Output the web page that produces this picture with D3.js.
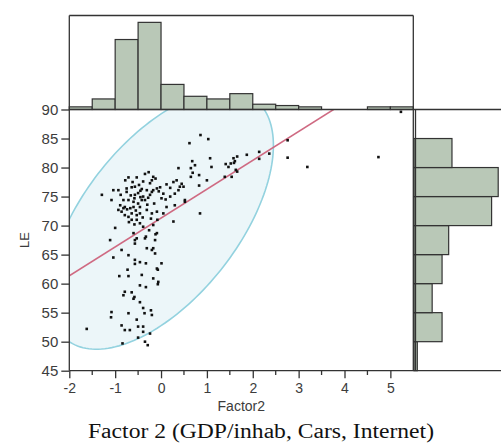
<html>
<head>
<meta charset="utf-8">
<title>Factor2 vs LE</title>
<script src="https://cdn.jsdelivr.net/npm/d3@7"></script>
<style>
  body { margin: 0; background: #fff; }
</style>
</head>
<body>
<script>
// ---- data ----
// scatter points: [Factor2, LE]
const factor2 = [
  -1.29,-1.04,-0.93,-1.08,-0.71,-0.53,-0.17,-0.20,-0.12,-0.24,-0.20,-0.17,-0.24,-0.39,-0.42,-0.39,-0.42,-0.50,-0.46,-0.60,
  -0.57,-0.57,-0.64,-0.75,-0.75,-0.82,-0.71,-0.82,-0.86,-0.79,-0.71,-0.64,-0.53,-0.64,-0.53,-0.93,-0.89,-0.79,-0.67,-0.46,
  -0.35,-0.60,-0.31,-0.09,-0.02,-0.20,-0.31,-0.09,0.05,0.12,0.27,0.30,0.30,0.38,0.41,0.49,0.34,0.27,0.38,0.52,
  0.12,0.05,0.01,0.10,-0.46,-0.39,-0.26,-0.17,-0.12,-1.00,-1.11,-0.60,-0.57,-0.57,-0.33,-0.31,-0.20,
  -0.62,-0.48,-0.66,-0.50,-0.45,-0.28,-0.30,-0.55,-0.74,-0.70,-0.58,-0.40,-0.15,-0.05,-0.78,-0.35,-0.27,-0.58,-0.88,-0.45,
  0.20,0.45,0.20,-0.08,-0.22,
  -1.04,-0.91,-0.71,-0.46,-0.33,-0.17,-0.06,-0.71,-0.57,-0.57,-0.33,-0.13,0.01,-0.09,-0.86,-0.46,-0.73,-0.42,-0.07,-0.79,
  -0.82,-0.64,-0.58,-0.46,-0.39,-0.22,-0.20,-1.08,-1.09,-0.71,-0.53,-0.39,-0.50,-0.86,-0.79,-0.68,-0.39,-1.62,-0.84,-0.50,
  -0.35,-0.29,-0.24,-0.36,-0.13,-0.17,-0.35,-0.53,-0.09,-0.07,-0.60,
  0.86,1.03,0.62,1.07,0.68,0.74,0.65,0.69,0.65,1.10,1.00,0.83,0.85,0.83,1.41,1.47,1.58,1.61,1.66,1.59,
  1.63,1.39,1.54,1.87,2.14,2.14,2.36,2.76,2.76,3.19,4.74,5.23,0.52,1.52,1.66
];
const lifeExp = [
  75.3,76.1,76.1,74.4,78.3,78.3,78.4,77.8,78.1,77.3,75.8,76.1,75.3,77.6,76.3,75.0,74.4,73.8,73.2,73.2,
  75.3,76.7,76.6,76.4,75.8,74.4,74.4,73.0,72.4,71.8,71.5,71.0,71.0,72.1,71.8,72.7,73.5,73.2,73.0,72.1,
  74.4,74.1,76.1,76.4,76.6,72.1,72.7,72.4,72.1,73.2,70.7,73.5,75.5,76.1,76.7,76.7,77.8,77.5,79.9,74.4,
  77.1,75.5,74.7,74.5,70.4,69.8,69.2,70.1,68.5,69.6,67.5,68.7,67.5,66.9,68.1,66.1,65.8,
  77.5,77.0,75.2,75.6,74.9,74.8,73.6,72.6,72.8,70.6,70.2,71.4,73.8,75.9,77.8,78.9,79.2,74.7,75.3,76.0,
  75.0,77.2,76.5,71.0,71.2,
  64.5,61.3,61.3,59.7,59.4,60.9,60.3,64.9,64.1,63.4,63.5,65.2,63.5,62.6,65.8,63.7,62.4,61.5,62.4,58.6,
  58.0,58.5,57.7,56.8,55.8,55.4,54.6,55.1,54.2,54.9,53.8,52.6,52.6,52.8,52.0,52.0,51.7,52.2,49.7,50.7,
  50.0,49.4,51.4,54.9,67.5,66.1,67.8,67.8,68.7,59.9,57.4,
  85.6,84.9,84.2,81.6,81.1,80.4,79.9,79.1,78.4,80.1,77.8,76.9,72.1,78.7,80.6,80.1,81.6,81.1,81.9,80.8,
  79.6,78.4,78.4,82.2,82.7,81.5,82.4,84.7,81.7,80.1,81.8,89.6,74.1,80.7,79.3
];

// marginal histogram of Factor2 (bin starts, width 0.5)
const factorBins = [-2,-1.5,-1,-0.5,0,0.5,1,1.5,2,2.5,3,3.5,4,4.5,5];
const factorCounts = [2,8,53,66,19,10,8,12,4,3,2,0,0,2,2];

// marginal histogram of LE (bin starts, width 5)
const leBins = [45,50,55,60,65,70,75,80];
const leCounts = [2,17,11,17,21,47,51,23];

// density ellipse and fit line
const ellipseStats = {mx: 0, my: 71.0, rx: 2.45, ry: 22.3, r: 0.575};
const fitLine = {intercept: 71.3, slope: 4.97};

const xTicks = [-2,-1,0,1,2,3,4,5];
const xMinor = [-1.5,-0.5,0.5,1.5,2.5,3.5,4.5];
const yTicks = [45,50,55,60,65,70,75,80,85,90];

// ---- layout ----
const width = 501, height = 444;
const plot = {left: 69.3, right: 413.3, top: 109.5, bottom: 370.7};
const topHistTop = 15.5;
const sideHistLeft = 414;

const frameColor = "#333";
const textColor = "#3c3c3c";
const barFill = "#b9c8b7";

const svg = d3.select("body").append("svg")
  .attr("width", width)
  .attr("height", height)
  .style("display", "block");

const x = d3.scaleLinear().domain([-2, 5.5]).range([plot.left, plot.right]);
const y = d3.scaleLinear().domain([45, 90]).range([plot.bottom, plot.top]);
const yHist = d3.scaleLinear().domain([0, 71.2]).range([plot.top, topHistTop]);
const xHist = d3.scaleLinear().domain([0, 53]).range([sideHistLeft, sideHistLeft + 87.5]);

svg.append("clipPath").attr("id", "plotClip")
  .append("rect")
    .attr("x", plot.left).attr("y", plot.top)
    .attr("width", plot.right - plot.left).attr("height", plot.bottom - plot.top);

const inner = svg.append("g").attr("clip-path", "url(#plotClip)");

// density ellipse
const angles = d3.range(0, 361, 2).map(a => a * Math.PI / 180);
const sr = Math.sqrt(1 - ellipseStats.r * ellipseStats.r);
const ellipsePts = angles.map(t => [
  ellipseStats.mx + ellipseStats.rx * Math.cos(t),
  ellipseStats.my + ellipseStats.ry * (ellipseStats.r * Math.cos(t) + sr * Math.sin(t))
]);
inner.append("path")
  .attr("d", d3.line().x(d => x(d[0])).y(d => y(d[1]))(ellipsePts) + "Z")
  .attr("fill", "#ecf6f9")
  .attr("stroke", "#93d2df")
  .attr("stroke-width", 1.6);

// fit line
inner.append("line")
  .attr("x1", x(-2)).attr("y1", y(fitLine.intercept + fitLine.slope * -2))
  .attr("x2", x(5.5)).attr("y2", y(fitLine.intercept + fitLine.slope * 5.5))
  .attr("stroke", "#cf6a82")
  .attr("stroke-width", 1.6);

// points
inner.append("g")
  .selectAll("rect")
  .data(d3.zip(factor2, lifeExp))
  .join("rect")
    .attr("x", d => x(d[0]) - 1.3)
    .attr("y", d => y(d[1]) - 1.3)
    .attr("width", 2.6)
    .attr("height", 2.6)
    .attr("fill", "#111");

// top histogram
svg.append("g")
  .selectAll("rect")
  .data(d3.zip(factorBins, factorCounts).filter(d => d[1] > 0))
  .join("rect")
    .attr("x", d => x(d[0]))
    .attr("y", d => yHist(d[1]))
    .attr("width", d => x(d[0] + 0.5) - x(d[0]))
    .attr("height", d => yHist(0) - yHist(d[1]))
    .attr("fill", barFill)
    .attr("stroke", frameColor)
    .attr("stroke-width", 1.2);

// side histogram
svg.append("g")
  .selectAll("rect")
  .data(d3.zip(leBins, leCounts))
  .join("rect")
    .attr("x", xHist(0))
    .attr("y", d => y(d[0] + 5))
    .attr("width", d => xHist(d[1]) - xHist(0))
    .attr("height", d => y(d[0]) - y(d[0] + 5))
    .attr("fill", barFill)
    .attr("stroke", frameColor)
    .attr("stroke-width", 1.2);

// frame lines
const frame = svg.append("g").attr("stroke", frameColor).attr("stroke-width", 1.3).attr("fill", "none");
frame.append("line").attr("x1", plot.left).attr("x2", plot.left).attr("y1", topHistTop).attr("y2", plot.bottom);
frame.append("line").attr("x1", plot.right).attr("x2", plot.right).attr("y1", topHistTop).attr("y2", plot.bottom);
frame.append("line").attr("x1", plot.left).attr("x2", plot.right).attr("y1", topHistTop).attr("y2", topHistTop);
frame.append("line").attr("x1", plot.left).attr("x2", width).attr("y1", plot.top).attr("y2", plot.top);
frame.append("line").attr("x1", plot.left).attr("x2", width).attr("y1", plot.bottom).attr("y2", plot.bottom);
frame.append("line").attr("x1", sideHistLeft + 1.5).attr("x2", sideHistLeft + 1.5).attr("y1", plot.top).attr("y2", plot.bottom);

// axes
const yAxis = svg.append("g")
  .attr("transform", "translate(" + plot.left + ",0)")
  .call(d3.axisLeft(y).tickValues(yTicks).tickSize(8).tickPadding(3));

const xAxis = svg.append("g")
  .attr("transform", "translate(0," + plot.bottom + ")")
  .call(d3.axisBottom(x).tickValues(xTicks).tickSize(7.6).tickPadding(5).tickFormat(d => d < 0 ? "-" + Math.abs(d) : d));

svg.append("g")
  .attr("transform", "translate(0," + plot.bottom + ")")
  .selectAll("line")
  .data(xMinor)
  .join("line")
    .attr("x1", d => x(d)).attr("x2", d => x(d))
    .attr("y1", 0).attr("y2", 4.3)
    .attr("stroke", frameColor).attr("stroke-width", 1.3);

[yAxis, xAxis].forEach(function(ax) {
  ax.select(".domain").remove();
  ax.selectAll(".tick line").attr("stroke", frameColor).attr("stroke-width", 1.3);
  ax.selectAll(".tick text")
    .attr("fill", textColor)
    .attr("font-family", "'Liberation Sans', Arial, sans-serif")
    .attr("font-size", 14);
});
yAxis.selectAll(".tick text").attr("font-size", 15);

// axis titles
svg.append("text")
  .attr("x", (plot.left + plot.right) / 2)
  .attr("y", 411)
  .attr("text-anchor", "middle")
  .attr("font-family", "'Liberation Sans', Arial, sans-serif")
  .attr("font-size", 14)
  .attr("fill", textColor)
  .text("Factor2");

svg.append("text")
  .attr("transform", "translate(29," + ((plot.top + plot.bottom) / 2) + ") rotate(-90)")
  .attr("text-anchor", "middle")
  .attr("font-family", "'Liberation Sans', Arial, sans-serif")
  .attr("font-size", 13)
  .attr("fill", textColor)
  .text("LE");

// caption
svg.append("text")
  .attr("x", 88)
  .attr("y", 438)
  .attr("font-family", "'Liberation Serif', 'Times New Roman', serif")
  .attr("font-size", 20)
  .attr("textLength", 346)
  .attr("lengthAdjust", "spacingAndGlyphs")
  .attr("fill", "#111")
  .text("Factor 2 (GDP/inhab, Cars, Internet)");
</script>
</body>
</html>
